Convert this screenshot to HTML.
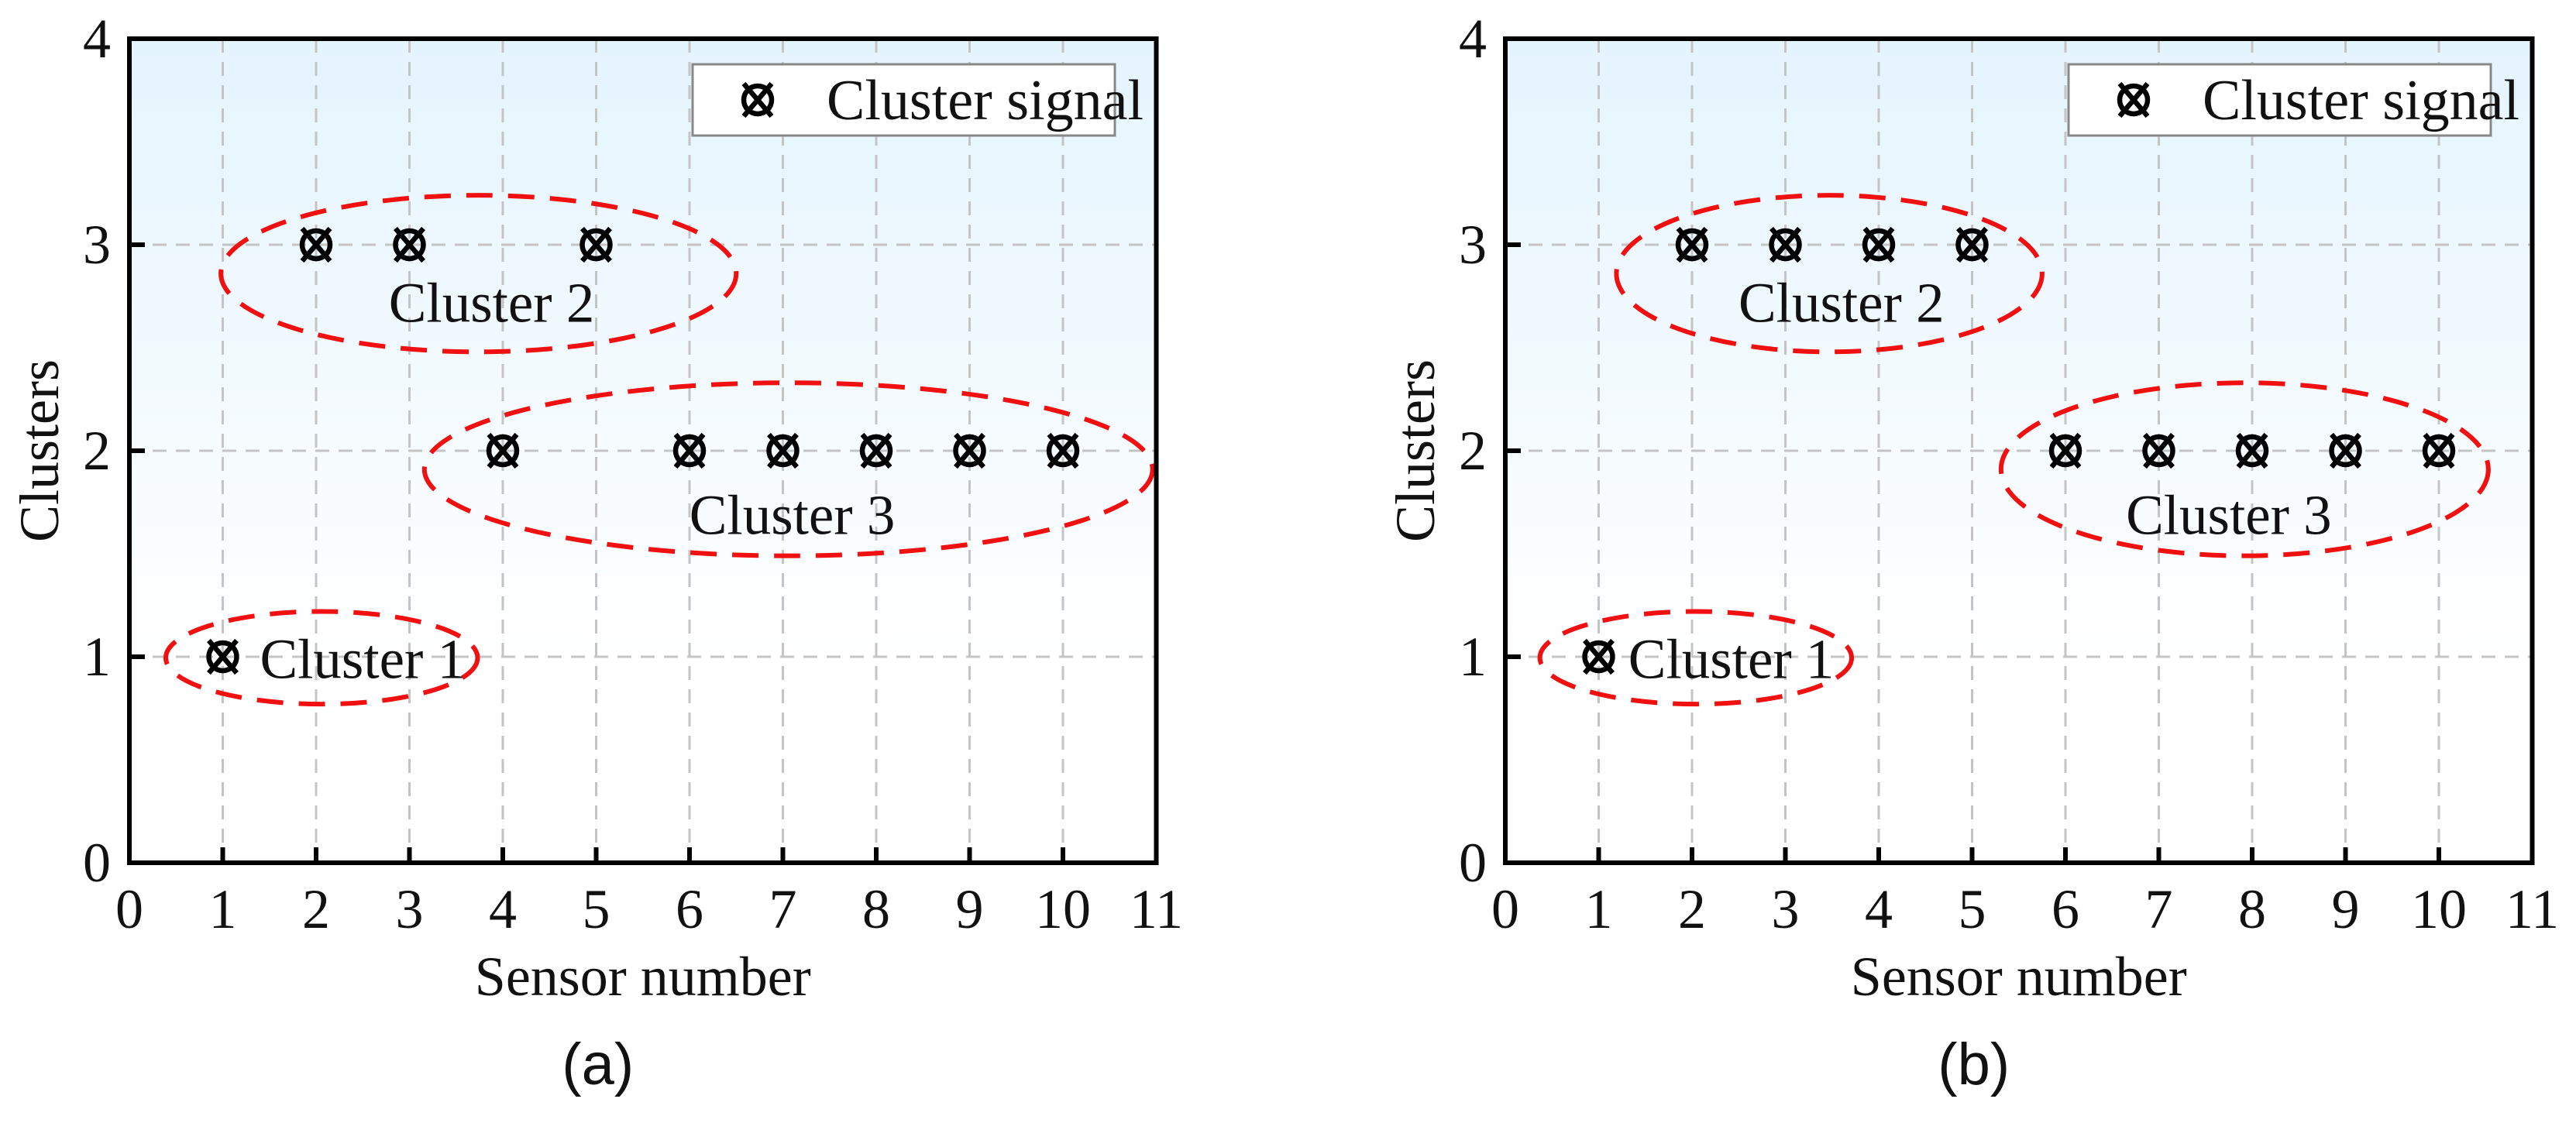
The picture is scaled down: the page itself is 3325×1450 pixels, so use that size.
<!DOCTYPE html>
<html><head><meta charset="utf-8"><style>
html,body{margin:0;padding:0;background:#fff}
svg{display:block}
text{font-family:"Liberation Serif",serif;fill:#111}
</style></head><body>
<svg id="chart" width="3325" height="1450" viewBox="0 0 3325 1450" xmlns="http://www.w3.org/2000/svg">
<defs>
<linearGradient id="bg" x1="0" y1="0" x2="0" y2="1">
<stop offset="0" stop-color="#e4f4fd"/><stop offset="0.75" stop-color="#ffffff"/><stop offset="1" stop-color="#ffffff"/>
</linearGradient>
</defs>
</svg>
<script>
const xTicks = [0,1,2,3,4,5,6,7,8,9,10,11];
const yTicks = [0,1,2,3,4];
const panelLabels = ["(a)","(b)"];
const sensorsA = [1,2,3,4,5,6,7,8,9,10];
const clustersA = [1,3,3,2,3,2,2,2,2,2];
const sensorsB = [1,2,3,4,5,6,7,8,9,10];
const clustersB = [1,3,3,3,3,2,2,2,2,2];
// ellipses: [cx, cy, rx, ry] in data units
const ellipsesA = [[2.06,0.995,1.67,0.225],[3.74,2.86,2.76,0.38],[7.06,1.91,3.9,0.42]];
const ellipsesB = [[2.04,0.995,1.67,0.225],[3.47,2.86,2.28,0.38],[7.92,1.91,2.61,0.42]];
const clusterNames = ["Cluster 1","Cluster 2","Cluster 3"];
const labelPosA = [[2.5,0.99],[3.88,2.72],[7.1,1.69]];
const labelPosB = [[2.42,0.99],[3.6,2.72],[7.75,1.69]];

const NS="http://www.w3.org/2000/svg";
const svg=document.getElementById('chart');
function mk(tag,attrs,parent){const e=document.createElementNS(NS,tag);for(const k in attrs)e.setAttribute(k,attrs[k]);(parent||svg).appendChild(e);return e;}

function panel(idx,left,sensors,clusters,ellipses,labelPos){
  const top=50,bottom=1114,unitX=120.5,right=left+11*unitX;
  const X=v=>left+v*unitX, Y=v=>bottom-(v/4)*(bottom-top);
  const g=mk('g',{});
  
  
  const bg=mk('rect',{x:left,y:top,width:right-left,height:bottom-top,fill:'url(#bg)'},g);
  
  
  xTicks.slice(1,-1).forEach(t=>{const l=mk('line',{x1:X(t),x2:X(t),y1:top,y2:bottom,stroke:'#c4c4c4','stroke-width':3,'stroke-dasharray':'18 12'},g);
    
    });
  yTicks.slice(1,-1).forEach(t=>{const l=mk('line',{x1:left,x2:right,y1:Y(t),y2:Y(t),stroke:'#c4c4c4','stroke-width':3,'stroke-dasharray':'18 12'},g);
    
    });
  ellipses.forEach((e,i)=>{const el=mk('ellipse',{cx:X(e[0]),cy:Y(e[1]),rx:e[2]*unitX,ry:e[3]*(bottom-top)/4,fill:'none',stroke:'#f01010','stroke-width':6,'stroke-dasharray':'34 20'},g);
    
    });
  labelPos.forEach((p,i)=>{const t=mk('text',{x:X(p[0]),y:Y(p[1])+25,'font-size':73,'text-anchor':'middle'},g);t.textContent=clusterNames[i];
    
    });
  function marker(cx,cy,parent){const m=mk('g',{stroke:'#000','stroke-width':6.5,fill:'none'},parent);
    mk('circle',{cx:cx,cy:cy,r:18},m);
    mk('line',{x1:cx-18,y1:cy-21,x2:cx+18,y2:cy+21},m);
    mk('line',{x1:cx+18,y1:cy-21,x2:cx-18,y2:cy+21},m);return m;}
  sensors.forEach((s,i)=>{const m=marker(X(s),Y(clusters[i]),g);
    
    });
  const fr=mk('rect',{x:left,y:top,width:right-left,height:bottom-top,fill:'none',stroke:'#000','stroke-width':6},g);
  
  
  xTicks.forEach(t=>{mk('line',{x1:X(t),x2:X(t),y1:bottom,y2:bottom-20,stroke:'#000','stroke-width':6},g);
    const tx=mk('text',{x:X(t),y:bottom+84,'font-size':72,'text-anchor':'middle'},g);tx.textContent=t;
    
    });
  yTicks.forEach(t=>{mk('line',{x1:left,x2:left+20,y1:Y(t),y2:Y(t),stroke:'#000','stroke-width':6},g);
    const ty=mk('text',{x:left-24,y:Y(t)+24,'font-size':72,'text-anchor':'end'},g);ty.textContent=t;
    
    });
  const xt=mk('text',{x:(left+right)/2,y:1285,'font-size':72,'text-anchor':'middle'},g);xt.textContent='Sensor number';
  
  
  const yt=mk('text',{x:0,y:0,'font-size':72,'text-anchor':'middle',transform:`translate(${left-92},${(top+bottom)/2}) rotate(-90)`},g);yt.textContent='Clusters';
  
  
  const lg=mk('g',{},g);
  
  
  mk('rect',{x:left+727,y:83,width:545,height:92,fill:'#fff',stroke:'#888','stroke-width':3},lg);
  marker(left+811,129,lg);
  const lt=mk('text',{x:left+900,y:154,'font-size':74},lg);lt.textContent='Cluster signal';
  
  
  const pl=mk('text',{x:(left+right)/2-58,y:1400,'font-size':76,'text-anchor':'middle',style:'font-family:"Liberation Sans",sans-serif'},g);pl.textContent=panelLabels[idx];
  
  
}
panel(0,167,sensorsA,clustersA,ellipsesA,labelPosA);
panel(1,1943,sensorsB,clustersB,ellipsesB,labelPosB);
</script>
</body></html>
